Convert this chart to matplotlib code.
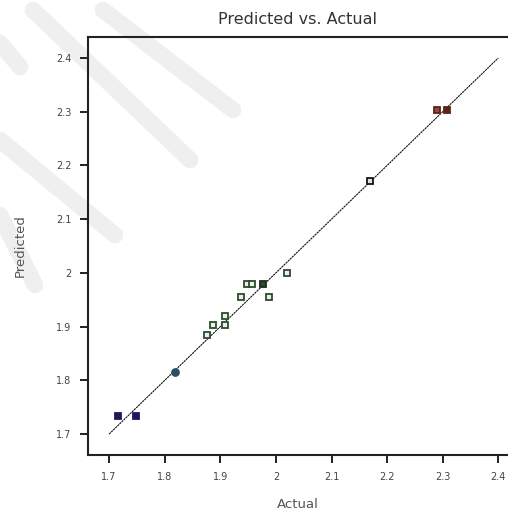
import numpy as np
import matplotlib.pyplot as plt
from matplotlib.lines import Line2D

# data
actual = [1.716, 1.749, 1.819, 1.876, 1.887, 1.909, 1.909, 1.937, 1.948, 1.957,
          1.977, 1.988, 2.020, 2.169, 2.290, 2.308]
predicted = [1.734, 1.734, 1.815, 1.884, 1.903, 1.903, 1.920, 1.955, 1.979, 1.979,
             1.979, 1.955, 2.000, 2.171, 2.303, 2.303]
edge_cols = ['#1c1a5a', '#1c1a5a', '#2a5063', '#2d4a2d', '#2d4a2d', '#2d4a2d', '#2d4a2d',
             '#2d4a2d', '#2d4a2d', '#2d4a2d', '#1f2a1f', '#2d4a2d', '#2d4a2d', '#151515',
             '#5a2418', '#5a2418']
face_cols = ['#1c1a5a', '#1c1a5a', '#2a5063', '#e8f0e8', '#e8f0e8', '#e8f0e8', '#e8f0e8',
             '#e8f0e8', '#e8f0e8', '#e8f0e8', '#2d4a2d', '#e8f0e8', '#e8f0e8', '#e0e0e0',
             '#8a4a40', '#5a2418']
markers = ['s', 's', 'o', 's', 's', 's', 's', 's', 's', 's', 's', 's', 's', 's', 's', 's']
ticks = [1.7, 1.8, 1.9, 2.0, 2.1, 2.2, 2.3, 2.4]
tick_labels = ['1.7', '1.8', '1.9', '2', '2.1', '2.2', '2.3', '2.4']

fig = plt.figure(figsize=(5.08, 5.14), dpi=100)

# faint watermark strokes behind the plot (pixel coords of the picture)
wm = [((33, 10), (190, 160)), ((103, 10), (233, 110)),
      ((0, 140), (115, 235)), ((0, 43), (20, 67)), ((0, 215), (35, 285))]
for (x0, y0), (x1, y1) in wm:
    fig.add_artist(Line2D([x0/508, x1/508], [1-y0/514, 1-y1/514], transform=fig.transFigure,
                          color='#efefef', lw=12, solid_capstyle='round', zorder=0))

ax = fig.add_axes([88/508, 59/514, 420/508, 418/514])
ax.set_facecolor('none')
ax.set_zorder(1)

ax.plot([1.7, 2.4], [1.7, 2.4], color='#111111', lw=0.8, ls=(0, (2, 0.6)), zorder=2)
for x, y, ec, fc, m in zip(actual, predicted, edge_cols, face_cols, markers):
    ax.plot(x, y, marker=m, ms=4.2 if m == 's' else 5, mec=ec, mfc=fc, mew=1.3,
            ls='none', zorder=3)

ax.set_xlim(1.662, 2.4174)
ax.set_ylim(1.661, 2.439)
ax.set_xticks(ticks)
ax.set_xticklabels(tick_labels)
ax.set_yticks(ticks)
ax.set_yticklabels(tick_labels)
ax.tick_params(direction='out', length=6, width=1.4, labelsize=7, colors='#222222',
               labelcolor='#444444', pad=6)
ax.spines['right'].set_visible(False)
for s in ['left', 'top', 'bottom']:
    ax.spines[s].set_linewidth(1.5)
    ax.spines[s].set_color('#222222')

ax.set_title('Predicted vs. Actual', fontsize=11.5, color='#333333', pad=9)
ax.set_xlabel('Actual', fontsize=9.5, color='#555555', labelpad=12)
ax.set_ylabel('Predicted', fontsize=9.5, color='#555555', labelpad=21)

fig.savefig('out.png', dpi=100)
